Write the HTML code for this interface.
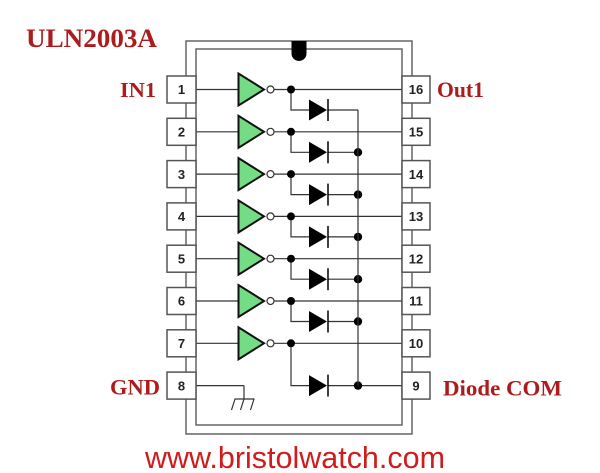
<!DOCTYPE html>
<html><head><meta charset="utf-8"><style>
html,body{margin:0;padding:0;background:#fff;}
svg{display:block;}
.w{stroke:#333;stroke-width:1.2;fill:none;}
.pk{stroke:#666;stroke-width:1.5;fill:none;}
.pb{stroke:#555;stroke-width:1.5;fill:#fff;}
.gt{fill:#74dc84;stroke:#111;stroke-width:2;stroke-linejoin:miter;}
.bub{fill:#fff;stroke:#333;stroke-width:1.2;}
.dt{fill:#000;}
.dio{fill:#000;}
.bar{stroke:#000;stroke-width:1.5;}
.pn{font-family:"Liberation Sans",sans-serif;font-weight:bold;font-size:13px;fill:#222;text-anchor:middle;}
.lb{font-family:"Liberation Serif",serif;font-weight:bold;fill:#ac1c1c;}
</style></head><body>
<svg width="600" height="473" viewBox="0 0 600 473" xmlns="http://www.w3.org/2000/svg">
<rect width="600" height="473" fill="#fff"/>
<!-- package -->
<rect class="pk" x="186" y="41" width="226" height="393"/>
<rect class="pk" x="196" y="49" width="206" height="376"/>
<path d="M291.5,41 H306.5 V53.5 A7.5,7.5 0 0 1 291.5,53.5 Z" fill="#000"/>

<!-- channels -->
<g id="ch">
</g>
<!-- channel 1 -->
<g transform="translate(0,89.5)">
<line class="w" x1="196" y1="0" x2="238" y2="0"/>
<line class="w" x1="274" y1="0" x2="402" y2="0"/>
<polyline class="w" points="291,0 291,20.5 309,20.5"/>
<line class="w" x1="328" y1="20.5" x2="358" y2="20.5"/>
<polygon class="gt" points="238.5,-16 238.5,16 264,0"/>
<circle class="bub" cx="270.5" cy="0" r="3.5"/>
<circle class="dt" cx="291" cy="0" r="4"/>
<polygon class="dio" points="309,10 309,31 327,20.5"/>
<line class="bar" x1="328" y1="9.5" x2="328" y2="31.5"/>
</g>
<!-- channel 2 -->
<g transform="translate(0,131.8)">
<line class="w" x1="196" y1="0" x2="238" y2="0"/>
<line class="w" x1="274" y1="0" x2="402" y2="0"/>
<polyline class="w" points="291,0 291,20.5 309,20.5"/>
<line class="w" x1="328" y1="20.5" x2="358" y2="20.5"/>
<polygon class="gt" points="238.5,-16 238.5,16 264,0"/>
<circle class="bub" cx="270.5" cy="0" r="3.5"/>
<circle class="dt" cx="291" cy="0" r="4"/>
<polygon class="dio" points="309,10 309,31 327,20.5"/>
<line class="bar" x1="328" y1="9.5" x2="328" y2="31.5"/>
<circle class="dt" cx="358" cy="20.5" r="4.2"/>
</g>
<!-- channel 3 -->
<g transform="translate(0,174.1)">
<line class="w" x1="196" y1="0" x2="238" y2="0"/>
<line class="w" x1="274" y1="0" x2="402" y2="0"/>
<polyline class="w" points="291,0 291,20.5 309,20.5"/>
<line class="w" x1="328" y1="20.5" x2="358" y2="20.5"/>
<polygon class="gt" points="238.5,-16 238.5,16 264,0"/>
<circle class="bub" cx="270.5" cy="0" r="3.5"/>
<circle class="dt" cx="291" cy="0" r="4"/>
<polygon class="dio" points="309,10 309,31 327,20.5"/>
<line class="bar" x1="328" y1="9.5" x2="328" y2="31.5"/>
<circle class="dt" cx="358" cy="20.5" r="4.2"/>
</g>
<!-- channel 4 -->
<g transform="translate(0,216.4)">
<line class="w" x1="196" y1="0" x2="238" y2="0"/>
<line class="w" x1="274" y1="0" x2="402" y2="0"/>
<polyline class="w" points="291,0 291,20.5 309,20.5"/>
<line class="w" x1="328" y1="20.5" x2="358" y2="20.5"/>
<polygon class="gt" points="238.5,-16 238.5,16 264,0"/>
<circle class="bub" cx="270.5" cy="0" r="3.5"/>
<circle class="dt" cx="291" cy="0" r="4"/>
<polygon class="dio" points="309,10 309,31 327,20.5"/>
<line class="bar" x1="328" y1="9.5" x2="328" y2="31.5"/>
<circle class="dt" cx="358" cy="20.5" r="4.2"/>
</g>
<!-- channel 5 -->
<g transform="translate(0,258.7)">
<line class="w" x1="196" y1="0" x2="238" y2="0"/>
<line class="w" x1="274" y1="0" x2="402" y2="0"/>
<polyline class="w" points="291,0 291,20.5 309,20.5"/>
<line class="w" x1="328" y1="20.5" x2="358" y2="20.5"/>
<polygon class="gt" points="238.5,-16 238.5,16 264,0"/>
<circle class="bub" cx="270.5" cy="0" r="3.5"/>
<circle class="dt" cx="291" cy="0" r="4"/>
<polygon class="dio" points="309,10 309,31 327,20.5"/>
<line class="bar" x1="328" y1="9.5" x2="328" y2="31.5"/>
<circle class="dt" cx="358" cy="20.5" r="4.2"/>
</g>
<!-- channel 6 -->
<g transform="translate(0,301)">
<line class="w" x1="196" y1="0" x2="238" y2="0"/>
<line class="w" x1="274" y1="0" x2="402" y2="0"/>
<polyline class="w" points="291,0 291,20.5 309,20.5"/>
<line class="w" x1="328" y1="20.5" x2="358" y2="20.5"/>
<polygon class="gt" points="238.5,-16 238.5,16 264,0"/>
<circle class="bub" cx="270.5" cy="0" r="3.5"/>
<circle class="dt" cx="291" cy="0" r="4"/>
<polygon class="dio" points="309,10 309,31 327,20.5"/>
<line class="bar" x1="328" y1="9.5" x2="328" y2="31.5"/>
<circle class="dt" cx="358" cy="20.5" r="4.2"/>
</g>
<!-- channel 7 -->
<g transform="translate(0,343.3)">
<line class="w" x1="196" y1="0" x2="238" y2="0"/>
<line class="w" x1="274" y1="0" x2="402" y2="0"/>
<polyline class="w" points="291,0 291,42.3 309,42.3"/>
<line class="w" x1="328" y1="42.3" x2="402" y2="42.3"/>
<polygon class="gt" points="238.5,-16 238.5,16 264,0"/>
<circle class="bub" cx="270.5" cy="0" r="3.5"/>
<circle class="dt" cx="291" cy="0" r="4"/>
<polygon class="dio" points="309,31.8 309,52.8 327,42.3"/>
<line class="bar" x1="328" y1="31.3" x2="328" y2="53.3"/>
<circle class="dt" cx="358" cy="42.3" r="4.2"/>
</g>
<!-- common line -->
<line class="w" x1="358" y1="110" x2="358" y2="385.6"/>

<!-- GND -->
<line class="w" x1="196" y1="385.6" x2="244" y2="385.6"/>
<line class="w" x1="244" y1="385.6" x2="244" y2="399"/>
<line class="w" x1="234.5" y1="399" x2="254.5" y2="399"/>
<line class="w" x1="235" y1="399" x2="231.5" y2="410"/>
<line class="w" x1="244" y1="399" x2="240.5" y2="410"/>
<line class="w" x1="254" y1="399" x2="250.5" y2="410"/>

<!-- pin boxes left -->
<rect class="pb" x="167" y="76" width="29" height="27"/>
<rect class="pb" x="167" y="118.3" width="29" height="27"/>
<rect class="pb" x="167" y="160.6" width="29" height="27"/>
<rect class="pb" x="167" y="202.9" width="29" height="27"/>
<rect class="pb" x="167" y="245.2" width="29" height="27"/>
<rect class="pb" x="167" y="287.5" width="29" height="27"/>
<rect class="pb" x="167" y="329.8" width="29" height="27"/>
<rect class="pb" x="167" y="372.1" width="29" height="27"/>
<!-- pin boxes right -->
<rect class="pb" x="402" y="76" width="28" height="27"/>
<rect class="pb" x="402" y="118.3" width="28" height="27"/>
<rect class="pb" x="402" y="160.6" width="28" height="27"/>
<rect class="pb" x="402" y="202.9" width="28" height="27"/>
<rect class="pb" x="402" y="245.2" width="28" height="27"/>
<rect class="pb" x="402" y="287.5" width="28" height="27"/>
<rect class="pb" x="402" y="329.8" width="28" height="27"/>
<rect class="pb" x="402" y="372.1" width="28" height="27"/>

<!-- pin numbers -->
<text class="pn" x="181.5" y="94.2">1</text>
<text class="pn" x="181.5" y="136.5">2</text>
<text class="pn" x="181.5" y="178.8">3</text>
<text class="pn" x="181.5" y="221.1">4</text>
<text class="pn" x="181.5" y="263.4">5</text>
<text class="pn" x="181.5" y="305.7">6</text>
<text class="pn" x="181.5" y="348">7</text>
<text class="pn" x="181.5" y="390.3">8</text>
<text class="pn" x="416" y="94.2">16</text>
<text class="pn" x="416" y="136.5">15</text>
<text class="pn" x="416" y="178.8">14</text>
<text class="pn" x="416" y="221.1">13</text>
<text class="pn" x="416" y="263.4">12</text>
<text class="pn" x="416" y="305.7">11</text>
<text class="pn" x="416" y="348">10</text>
<text class="pn" x="416" y="390.3">9</text>

<!-- labels -->
<text class="lb" x="26" y="47" font-size="26" textLength="131" lengthAdjust="spacingAndGlyphs">ULN2003A</text>
<text class="lb" x="120" y="97" font-size="21" textLength="36" lengthAdjust="spacingAndGlyphs">IN1</text>
<text class="lb" x="437" y="97" font-size="22" textLength="47" lengthAdjust="spacingAndGlyphs">Out1</text>
<text class="lb" x="110" y="394.5" font-size="22" textLength="50" lengthAdjust="spacingAndGlyphs">GND</text>
<text class="lb" x="443" y="395.5" font-size="22" textLength="119" lengthAdjust="spacingAndGlyphs">Diode COM</text>
<text x="145" y="468" font-family="Liberation Sans, sans-serif" font-size="31" fill="#d01c1c" textLength="300" lengthAdjust="spacingAndGlyphs">www.bristolwatch.com</text>
</svg>
</body></html>
